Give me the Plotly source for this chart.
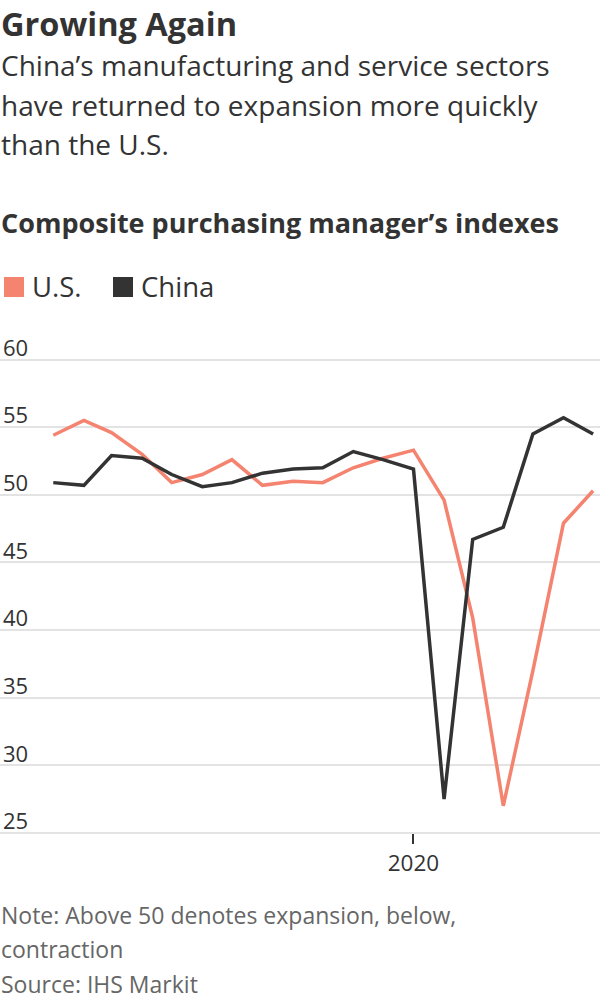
import plotly.graph_objects as go

# ---- data ----
months = [
    "2019-01-01", "2019-02-01", "2019-03-01", "2019-04-01", "2019-05-01", "2019-06-01",
    "2019-07-01", "2019-08-01", "2019-09-01", "2019-10-01", "2019-11-01", "2019-12-01",
    "2020-01-01", "2020-02-01", "2020-03-01", "2020-04-01", "2020-05-01", "2020-06-01",
    "2020-07-01",
]
us_pmi = [54.4, 55.5, 54.6, 53.0, 50.9, 51.5, 52.6, 50.7, 51.0, 50.9, 52.0, 52.7,
          53.3, 49.6, 40.9, 27.0, 37.0, 47.9, 50.3]
china_pmi = [50.9, 50.7, 52.9, 52.7, 51.5, 50.6, 50.9, 51.6, 51.9, 52.0, 53.2, 52.6,
             51.9, 27.5, 46.7, 47.6, 54.5, 55.7, 54.5]
series_names = ["U.S.", "China"]
y_ticks = [25, 30, 35, 40, 45, 50, 55, 60]
x_tick_vals = ["2020-01-01"]
x_tick_text = ["2020"]

US_COLOR = "#F4836F"
CN_COLOR = "#333333"
FONT = "Open Sans"

W, H = 600, 1000
M_T, M_B = 319, 159
PLOT_H = H - M_T - M_B
BOTTOM_PX = H - M_B
Y_RANGE = [24.4, 63]
X_AXIS_POS = (y_ticks[0] - Y_RANGE[0]) / (Y_RANGE[1] - Y_RANGE[0])


def py(px):
    return (BOTTOM_PX - px) / PLOT_H


def pxx(px):
    return px / W


fig = go.Figure()
fig.add_trace(go.Scatter(x=months, y=us_pmi, mode="lines", name=series_names[0],
                         line=dict(color=US_COLOR, width=3.5), showlegend=False))
fig.add_trace(go.Scatter(x=months, y=china_pmi, mode="lines", name=series_names[1],
                         line=dict(color=CN_COLOR, width=3.5), showlegend=False))

annotations = []


def text(s, x_px, y_mid_px, size, color="#333333", bold=False):
    if bold:
        s = "<b>" + s + "</b>"
    annotations.append(dict(
        text=s, xref="paper", yref="paper", x=pxx(x_px), y=py(y_mid_px),
        xanchor="left", yanchor="middle", showarrow=False, borderpad=0,
        font=dict(family=FONT, size=size, color=color),
    ))


text("Growing Again", 0, 24, 32.5, "#333333", bold=True)
text("China’s manufacturing and service sectors", 0, 65, 28)
text("have returned to expansion more quickly", 0, 104.5, 28)
text("than the U.S.", 0, 144, 28)
text("Composite purchasing manager’s indexes", 0, 222, 27, bold=True)
text(series_names[0], 31, 287, 27.5)
text(series_names[1], 140, 287, 27.5)
text("Note: Above 50 denotes expansion, below,", 0, 915, 23, "#666666")
text("contraction", 0, 949, 23, "#666666")
text("Source: IHS Markit", 0, 983.5, 23, "#666666")

shapes = [
    dict(type="rect", xref="paper", yref="paper", x0=pxx(4), x1=pxx(24), y0=py(297), y1=py(277),
         fillcolor=US_COLOR, line=dict(width=0)),
    dict(type="rect", xref="paper", yref="paper", x0=pxx(113), x1=pxx(133), y0=py(297), y1=py(277),
         fillcolor=CN_COLOR, line=dict(width=0)),
]

fig.update_layout(
    width=W, height=H,
    margin=dict(l=0, r=0, t=M_T, b=M_B, pad=0),
    paper_bgcolor="white", plot_bgcolor="white",
    font=dict(family=FONT, color="#333333"),
    annotations=annotations,
    shapes=shapes,
    xaxis=dict(
        type="date", range=["2018-11-08", "2020-07-08"],
        anchor="free", position=X_AXIS_POS,
        tickvals=x_tick_vals, ticktext=x_tick_text,
        ticks="outside", ticklen=10, tickwidth=2, tickcolor="#333333",
        showgrid=False, zeroline=False, showline=False,
        tickfont=dict(family=FONT, size=22.5, color="#333333"),
    ),
    yaxis=dict(
        range=Y_RANGE, tickvals=y_ticks, ticktext=[str(v) for v in y_ticks],
        showgrid=True, gridcolor="#e3e3e3", gridwidth=1.5,
        zeroline=False, showline=False, ticks="",
        ticklabelposition="inside top", ticklabelshift=4,
        tickfont=dict(family=FONT, size=22, color="#333333"),
    ),
    showlegend=False,
)

fig.write_html("out.html", config={"displayModeBar": False},
               post_script="document.body.style.margin='0';")
